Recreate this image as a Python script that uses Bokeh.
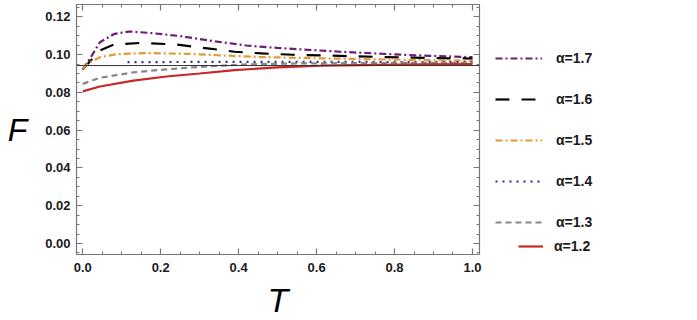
from bokeh.plotting import figure
from bokeh.layouts import row
from bokeh.models import (LinearAxis, Span, Legend, LegendItem, SingleIntervalTicker,
                          Range1d, CustomJSTickFormatter)
from bokeh.embed import file_html
from bokeh.resources import INLINE

# ---- data ----
T17 = [0.0, 0.018, 0.044, 0.082, 0.12, 0.17, 0.25, 0.34, 0.42, 0.5, 0.66, 0.83, 1.0]
F17 = [0.0922, 0.0977, 0.1065, 0.1110, 0.1122, 0.1115, 0.1098, 0.1070, 0.1048, 0.1035, 0.1015, 0.0998, 0.0986]

T16 = [0.0, 0.044, 0.079, 0.15, 0.24, 0.32, 0.39, 0.46, 0.54, 0.625, 0.77, 0.94, 1.0]
F16 = [0.0922, 0.1021, 0.1052, 0.1062, 0.1053, 0.1033, 0.1015, 0.1006, 0.0999, 0.0995, 0.0987, 0.0980, 0.0979]

T15 = [0.0, 0.015, 0.044, 0.087, 0.16, 0.27, 0.385, 0.46, 0.61, 0.83, 1.0]
F15 = [0.0925, 0.0955, 0.0986, 0.1002, 0.1008, 0.1004, 0.0993, 0.0987, 0.0980, 0.0972, 0.0968]

T14 = [0.115, 0.3, 0.5, 0.7, 1.0]
F14 = [0.0960, 0.0961, 0.0961, 0.0961, 0.0960]

T13 = [0.0, 0.044, 0.13, 0.215, 0.30, 0.42, 0.55, 0.7, 0.85, 1.0]
F13 = [0.0845, 0.0877, 0.0906, 0.0922, 0.0935, 0.0948, 0.0953, 0.0955, 0.0956, 0.0956]

T12 = [0.0, 0.044, 0.13, 0.215, 0.30, 0.39, 0.50, 0.61, 0.75, 0.88, 1.0]
F12 = [0.0805, 0.0831, 0.0862, 0.0884, 0.0900, 0.0918, 0.0932, 0.0941, 0.0945, 0.0948, 0.0949]

REF_F = 0.0942

labels = ["α=1.7", "α=1.6", "α=1.5", "α=1.4", "α=1.3", "α=1.2"]
colors = ["#6E1E78", "black", "#E39A35", "#2E2E8A", "#888888", "#C62828"]
dashes = ["7 3 2 3", "14 12", "7 3 2 3", "2 5", "6 4", "solid"]
series_T = [T17, T16, T15, T14, T13, T12]
series_F = [F17, F16, F15, F14, F13, F12]

p = figure(frame_width=403, frame_height=250, output_backend="svg", toolbar_location=None,
           x_range=Range1d(-0.016, 1.018), y_range=Range1d(-0.0058, 0.1265),
           min_border_left=76, min_border_right=10, min_border_top=4, min_border_bottom=60)
p.background_fill_color = "white"
p.border_fill_color = "white"
p.outline_line_color = "#777777"
p.outline_line_width = 1.2
p.xgrid.visible = False
p.ygrid.visible = False

xt = SingleIntervalTicker(interval=0.2, num_minor_ticks=4)
yt = SingleIntervalTicker(interval=0.02, num_minor_ticks=4)

def style_axis(ax, labels_on):
    ax.axis_line_color = None
    ax.major_tick_in = 6
    ax.major_tick_out = 0
    ax.minor_tick_in = 3
    ax.minor_tick_out = 0
    ax.major_tick_line_color = "#777777"
    ax.minor_tick_line_color = "#777777"
    ax.major_tick_line_width = 1.2
    ax.minor_tick_line_width = 1
    if labels_on:
        ax.major_label_text_font = "Liberation Sans"
        ax.major_label_text_font_style = "bold"
        ax.major_label_text_font_size = "13px"
        ax.major_label_text_color = "#1a1a1a"
    else:
        ax.formatter = CustomJSTickFormatter(code="return '';")
        ax.major_label_standoff = 0

xa = p.xaxis[0]
xa.ticker = xt
xa.formatter = CustomJSTickFormatter(code="return tick.toFixed(1);")
style_axis(xa, True)
xa.major_label_standoff = 8
xa.axis_label = "T"
xa.axis_label_text_font = "Liberation Sans"
xa.axis_label_text_font_style = "italic"
xa.axis_label_text_font_size = "34px"
xa.axis_label_text_color = "black"
xa.axis_label_standoff = 6

ya = p.yaxis[0]
ya.ticker = yt
ya.formatter = CustomJSTickFormatter(code="return tick.toFixed(2);")
style_axis(ya, True)
ya.major_label_standoff = 6
ya.axis_label = "F"
ya.axis_label_orientation = "horizontal"
ya.axis_label_text_font = "Liberation Sans"
ya.axis_label_text_font_style = "italic"
ya.axis_label_text_font_size = "32px"
ya.axis_label_text_color = "black"
ya.axis_label_standoff = 15

top = LinearAxis(ticker=xt)
style_axis(top, False)
p.add_layout(top, "above")
right = LinearAxis(ticker=yt)
style_axis(right, False)
p.add_layout(right, "right")

p.add_layout(Span(location=REF_F, dimension="width", line_color="#333333", line_width=1))

for t, f, c, d in zip(series_T, series_F, colors, dashes):
    p.line(t, f, line_color=c, line_width=2.2, line_dash=d)

# ---- legend panel (separate figure to the right; its lines lie outside its view) ----
q = figure(frame_width=200, frame_height=250, output_backend="svg", toolbar_location=None,
           x_range=Range1d(0, 1), y_range=Range1d(5, 6),
           min_border_left=0, min_border_right=0, min_border_top=4, min_border_bottom=60)
q.axis.visible = False
q.xgrid.visible = False
q.ygrid.visible = False
q.outline_line_color = None
q.background_fill_color = "white"
q.border_fill_color = "white"

legend_lines = [q.line(t, f, line_color=c, line_width=2.2, line_dash=d)
                for t, f, c, d in zip(series_T, series_F, colors, dashes)]

common = dict(border_line_color=None, background_fill_alpha=0, padding=0, margin=0,
              label_text_font="Liberation Sans", label_text_font_style="bold",
              label_text_font_size="14px", label_text_color="#1a1a1a")

leg1 = Legend(items=[LegendItem(label=labels[i], renderers=[legend_lines[i]]) for i in range(5)],
              location=(6, 22), spacing=21, glyph_width=47, glyph_height=20, label_height=20,
              label_standoff=14, **common)
leg2 = Legend(items=[LegendItem(label=labels[5], renderers=[legend_lines[5]])],
              location=(29, 0), spacing=0, glyph_width=25, glyph_height=10, label_height=10,
              label_standoff=11, **common)
q.add_layout(leg1)
q.add_layout(leg2)

layout = row(p, q)
open("out.html", "w").write(file_html(layout, INLINE))
